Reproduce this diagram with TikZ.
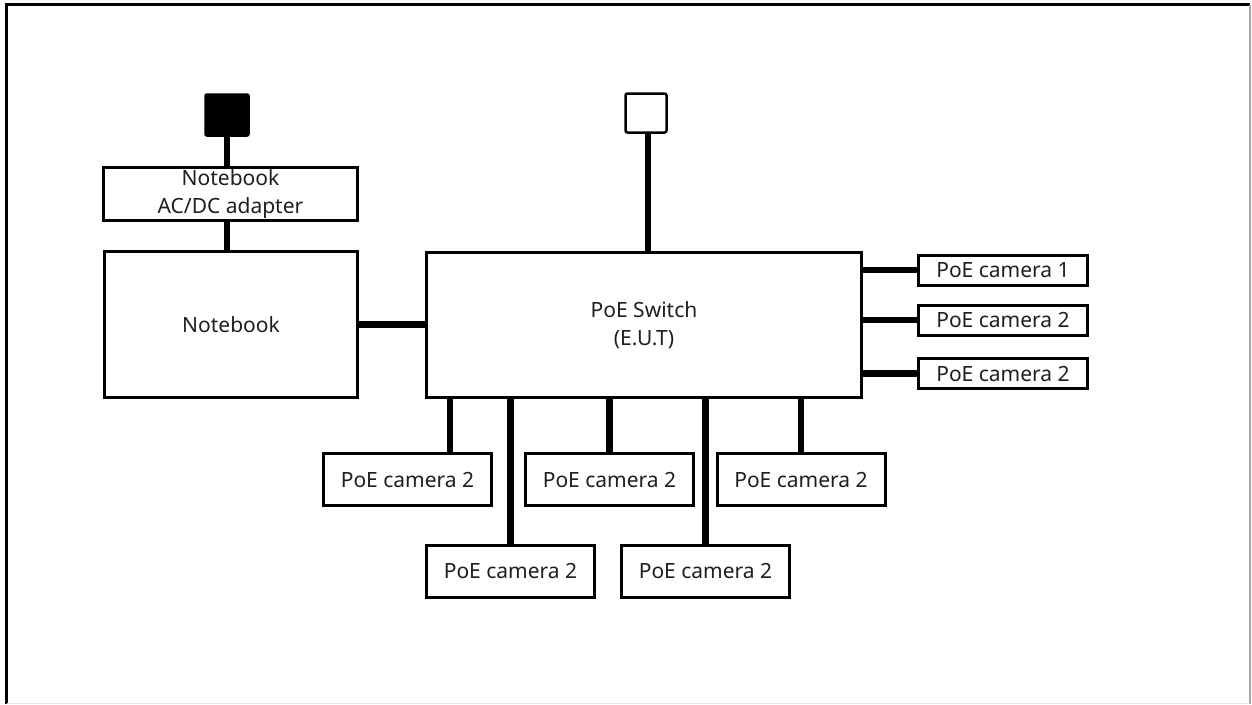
\documentclass[tikz,border=0pt]{standalone}
\usepackage{fontspec}
\setmainfont{Noto Sans}
\usetikzlibrary{positioning}

\tikzset{
  box/.style={draw, line width=3pt, fill=white, align=center,
    font=\fontsize{21}{28}\selectfont, text=black!88, inner sep=0pt},
  cam/.style={box, minimum width=168pt, minimum height=52pt},
  camr/.style={box, minimum width=169pt, minimum height=30pt},
  wire/.style={line width=6.5pt},
}

\begin{document}
\begin{tikzpicture}[x=1pt,y=-1pt]
  \useasboundingbox (0,0) rectangle (1252,704);
  % frame
  \draw[line width=3pt] (6.5,704) -- (6.5,4.5) -- (1250,4.5);
  \draw[gray!70, line width=1.5pt] (1250,4.5) -- (1250,704);
  \draw[gray!20, line width=1pt] (6.5,703.5) -- (1250,703.5);

  \node[draw, fill=black, line width=1.5pt, rounded corners=2pt,
    minimum width=44pt, minimum height=42pt] (plug) at (227,115) {};
  \node[box, minimum width=254pt, minimum height=53pt] (adp) at (230.5,194)
    {Notebook\\AC/DC adapter};
  \node[box, minimum width=253pt, minimum height=146pt] (nb) at (231,324.5) {Notebook};
  \node[box, minimum width=435pt, minimum height=145pt] (sw) at (644,325)
    {PoE Switch\\(E.U.T)};
  \node[draw, line width=2.5pt, rounded corners=2pt,
    minimum width=41pt, minimum height=39pt] (outlet) at (646,113) {};

  % cameras on the right
  \node[camr] (r1) at (1003,270) {PoE camera 1};
  \node[camr] (r2) at (1003,320) {PoE camera 2};
  \node[camr] (r3) at (1003,373.5) {PoE camera 2};

  % cameras below
  \node[cam] (b1) at (407.5,479.5) {PoE camera 2};
  \node[cam] (b2) at (609.5,479.5) {PoE camera 2};
  \node[cam] (b3) at (801,479.5) {PoE camera 2};
  \node[cam] (b4) at (510.5,571) {PoE camera 2};
  \node[cam] (b5) at (705.5,571) {PoE camera 2};

  \draw[wire] (plug.south) -- (plug.south |- adp.north);
  \draw[wire] (plug.south |- adp.south) -- (plug.south |- nb.north);
  \draw[wire] (nb.east) -- (nb.east -| sw.west);
  \draw[wire] ([xshift=2pt]outlet.south) -- ([xshift=2pt]outlet.south |- sw.north);
  \foreach \c in {r1,r2,r3}
    \draw[wire] (\c.west -| sw.east) -- (\c.west);
  \draw[wire] ([xshift=42.5pt]b1.north) -- ([xshift=42.5pt]b1.north |- sw.south);
  \foreach \c in {b2,b3,b4,b5}
    \draw[wire] (\c.north) -- (\c.north |- sw.south);
\end{tikzpicture}
\end{document}
